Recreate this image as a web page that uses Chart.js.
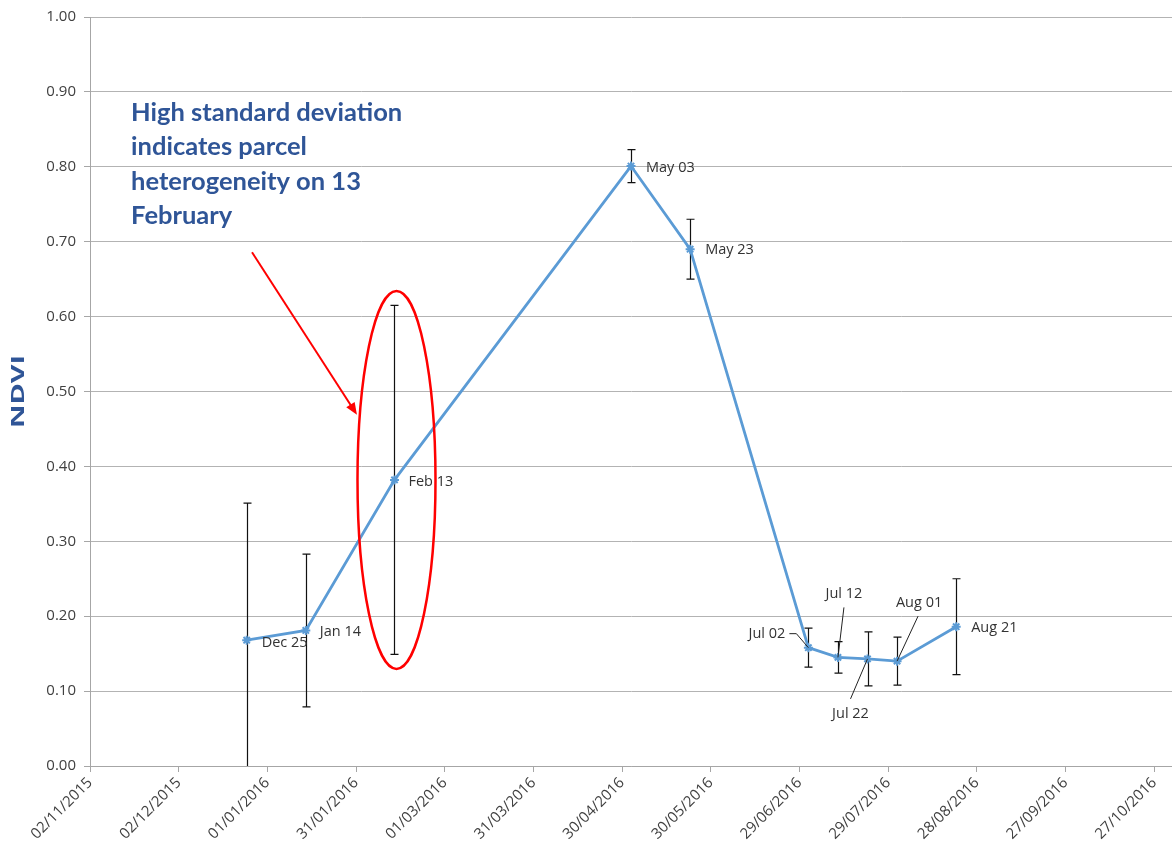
<!DOCTYPE html>
<html>
<head>
<meta charset="utf-8">
<script src="https://cdn.jsdelivr.net/npm/chart.js@4/dist/chart.umd.min.js"></script>
<style>
html,body{margin:0;padding:0;background:#fff;}
#wrap{width:1172px;height:854px;position:relative;}
</style>
</head>
<body>
<div id="wrap"><canvas id="c"></canvas></div>
<script>
// ---- data ----
const pointLabels = ['Dec 25','Jan 14','Feb 13','May 03','May 23','Jul 02','Jul 12','Jul 22','Aug 01','Aug 21'];
// days since 02/11/2015
const pointDays = [53, 73, 103, 183, 203, 243, 253, 263, 273, 293];
const ndvi = [0.168, 0.181, 0.382, 0.801, 0.690, 0.158, 0.145, 0.143, 0.140, 0.186];
const ndviSd = [0.183, 0.102, 0.233, 0.022, 0.040, 0.026, 0.021, 0.036, 0.032, 0.064];
const tickDays = [0, 30, 60, 90, 120, 150, 180, 210, 240, 270, 300, 330, 360];
const tickLabels = ['02/11/2015','02/12/2015','01/01/2016','31/01/2016','01/03/2016','31/03/2016','30/04/2016','30/05/2016','29/06/2016','29/07/2016','28/08/2016','27/09/2016','27/10/2016'];
const yTitle = 'NDVI';
const noteLines = ['High standard deviation','indicates parcel','heterogeneity on 13','February'];

// ---- label placement (pixel offsets from point) ----
const labelStyle = [
  {dx:15, dy:3, align:'left'},
  {dx:14, dy:1, align:'left'},
  {dx:14, dy:2, align:'left'},
  {dx:15, dy:2, align:'left'},
  {dx:15, dy:1, align:'left'},
  {dx:-23, dy:-14, align:'right', lead:[[-19,-14],[-12,-14]]},
  {dx:6, dy:-64, align:'center', lead:[[6,-50]]},
  {dx:-17, dy:55, align:'center', lead:[[-17,40]]},
  {dx:22, dy:-58, align:'center', lead:[[21,-45]]},
  {dx:15, dy:1, align:'left'}
];

const annotationPlugin = {
  id: 'annot',
  beforeDatasetsDraw(chart) {
    const ctx = chart.ctx, xs = chart.scales.x, ys = chart.scales.y, a = chart.chartArea;
    ctx.save();
    ctx.beginPath();
    ctx.rect(a.left, a.top, a.right - a.left, a.bottom - a.top);
    ctx.clip();
    ctx.strokeStyle = '#111';
    ctx.lineWidth = 1.2;
    for (let i = 0; i < ndvi.length; i++) {
      const x = Math.round(xs.getPixelForValue(pointDays[i])) + 0.5;
      const yt = ys.getPixelForValue(ndvi[i] + ndviSd[i]);
      const yb = ys.getPixelForValue(ndvi[i] - ndviSd[i]);
      ctx.beginPath();
      ctx.moveTo(x, yt); ctx.lineTo(x, yb);
      ctx.moveTo(x - 4, yt); ctx.lineTo(x + 4, yt);
      ctx.moveTo(x - 4, yb); ctx.lineTo(x + 4, yb);
      ctx.stroke();
    }
    ctx.restore();
  },
  afterDraw(chart) {
    const ctx = chart.ctx, a = chart.chartArea;
    // y axis title, stretched like the original
    ctx.save();
    ctx.translate(19, (a.top + a.bottom) / 2);
    ctx.rotate(-Math.PI / 2);
    ctx.scale(1.7, 1);
    ctx.font = 'bold 17px "Open Sans"';
    ctx.fillStyle = '#2F5597';
    ctx.textAlign = 'center';
    ctx.textBaseline = 'middle';
    ctx.fillText(yTitle, 0, 0);
    ctx.restore();
  },
  afterDatasetsDraw(chart) {
    const ctx = chart.ctx, xs = chart.scales.x, ys = chart.scales.y;
    ctx.save();
    // point labels
    ctx.font = '14.5px "Open Sans"';
    ctx.fillStyle = '#333';
    ctx.textBaseline = 'middle';
    for (let i = 0; i < ndvi.length; i++) {
      const px = xs.getPixelForValue(pointDays[i]);
      const py = ys.getPixelForValue(ndvi[i]);
      const s = labelStyle[i];
      ctx.textAlign = s.align;
      ctx.fillText(pointLabels[i], px + s.dx, py + s.dy);
      if (s.lead) {
        ctx.strokeStyle = '#222';
        ctx.lineWidth = 1;
        ctx.beginPath();
        ctx.moveTo(px + s.lead[0][0], py + s.lead[0][1]);
        for (let k = 1; k < s.lead.length; k++) ctx.lineTo(px + s.lead[k][0], py + s.lead[k][1]);
        ctx.lineTo(px, py);
        ctx.stroke();
      }
    }
    // red ellipse around Feb 13
    const ex = xs.getPixelForValue(pointDays[2]) + 2;
    const ey = ys.getPixelForValue(ndvi[2]) + 0;
    ctx.strokeStyle = '#ff0000';
    ctx.lineWidth = 2.5;
    ctx.beginPath();
    ctx.ellipse(ex, ey, 39, 189, 0, 0, Math.PI * 2);
    ctx.stroke();
    // red arrow
    const x1 = xs.getPixelForValue(54.8), y1 = ys.getPixelForValue(0.686);
    const x2 = xs.getPixelForValue(90.3), y2 = ys.getPixelForValue(0.469);
    const ang = Math.atan2(y2 - y1, x2 - x1);
    ctx.lineWidth = 2;
    ctx.beginPath();
    ctx.moveTo(x1, y1);
    ctx.lineTo(x2 - 6 * Math.cos(ang), y2 - 6 * Math.sin(ang));
    ctx.stroke();
    ctx.fillStyle = '#ff0000';
    ctx.beginPath();
    ctx.moveTo(x2, y2);
    ctx.lineTo(x2 - 12 * Math.cos(ang) + 5 * Math.sin(ang), y2 - 12 * Math.sin(ang) - 5 * Math.cos(ang));
    ctx.lineTo(x2 - 12 * Math.cos(ang) - 5 * Math.sin(ang), y2 - 12 * Math.sin(ang) + 5 * Math.cos(ang));
    ctx.closePath();
    ctx.fill();
    // note text
    ctx.fillStyle = '#2F5597';
    ctx.font = 'bold 25.5px Lato';
    ctx.textAlign = 'left';
    ctx.textBaseline = 'middle';
    const tx = xs.getPixelForValue(13.9);
    const ty = ys.getPixelForValue(0.872);
    noteLines.forEach((t, k) => ctx.fillText(t, tx, ty + k * 34.3));
    ctx.restore();
  }
};

new Chart(document.getElementById('c'), {
  type: 'line',
  data: {
    datasets: [{
      label: 'NDVI',
      data: pointDays.map((d, i) => ({x: d, y: ndvi[i]})),
      borderColor: '#5B9BD5',
      backgroundColor: '#5B9BD5',
      borderWidth: 2.8,
      pointStyle: 'star',
      pointRadius: 4.5,
      pointBorderWidth: 2,
      pointBorderColor: '#5B9BD5',
      tension: 0
    }]
  },
  plugins: [annotationPlugin],
  options: {
    responsive: true,
    maintainAspectRatio: false,
    animation: false,
    layout: {autoPadding: false, padding: {top: 13, right: 0, left: 0, bottom: 0}},
    plugins: {legend: {display: false}, tooltip: {enabled: false}},
    scales: {
      x: {
        type: 'linear',
        min: 0,
        max: 366,
        afterBuildTicks: (s) => { s.ticks = tickDays.map(v => ({value: v})); },
        afterFit: (s) => { s.height = 88; s.paddingRight = 0; s.paddingLeft = 0; },
        ticks: {
          autoSkip: false,
          maxRotation: 45,
          minRotation: 45,
          padding: 2,
          color: '#404040',
          font: {family: '"Open Sans"', size: 15},
          callback: (v, i) => tickLabels[i]
        },
        grid: {drawOnChartArea: false, drawTicks: true, tickLength: 6, tickColor: '#a6a6a6'},
        border: {color: '#a6a6a6', width: 1}
      },
      y: {
        min: 0,
        max: 1,
        afterFit: (s) => { s.width = 90; },
        ticks: {
          stepSize: 0.1,
          padding: 8,
          color: '#404040',
          font: {family: '"Open Sans"', size: 15},
          callback: (v) => Number(v).toFixed(2)
        },
        grid: {color: '#b3b3b3', lineWidth: 1, drawTicks: true, tickLength: 6, tickColor: '#a6a6a6'},
        border: {color: '#a6a6a6', width: 1}
      }
    }
  }
});
</script>
</body>
</html>
